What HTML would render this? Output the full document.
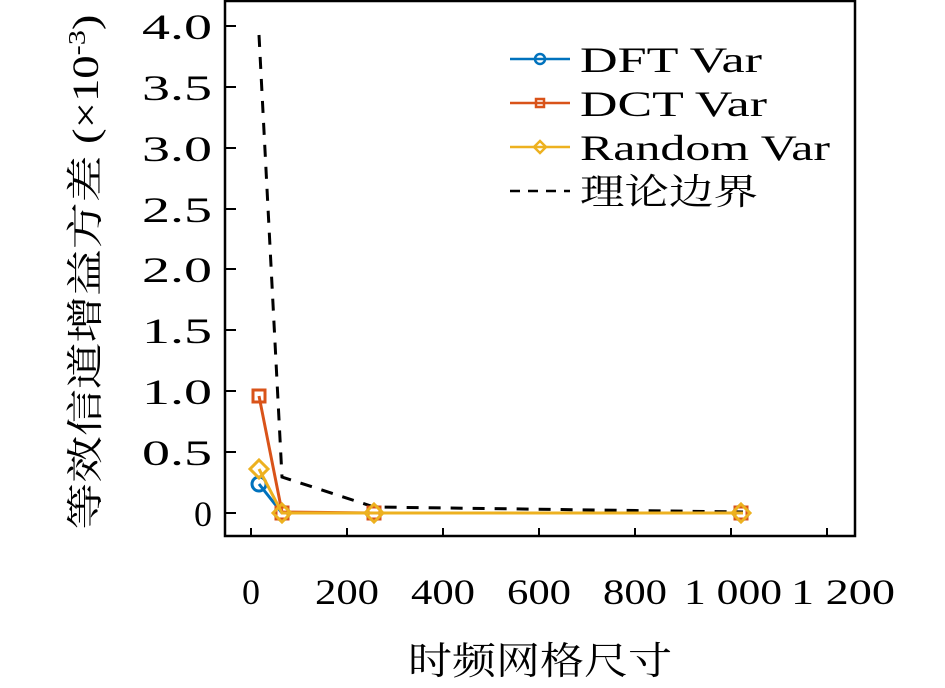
<!DOCTYPE html>
<html><head><meta charset="utf-8"><style>body{margin:0;background:#fff}</style></head><body>
<svg width="945" height="683" xmlns="http://www.w3.org/2000/svg" style="font-family:'Liberation Serif','Noto Serif CJK SC',serif">
<rect width="945" height="683" fill="#fff"/>
<g stroke="#000" stroke-width="2.5" fill="none">
<rect x="225" y="1" width="630" height="535"/>
</g>
<g stroke="#000" stroke-width="2">
<line x1="251" y1="536" x2="251" y2="528"/><line x1="347" y1="536" x2="347" y2="528"/><line x1="443" y1="536" x2="443" y2="528"/><line x1="539" y1="536" x2="539" y2="528"/><line x1="635" y1="536" x2="635" y2="528"/><line x1="731" y1="536" x2="731" y2="528"/><line x1="827" y1="536" x2="827" y2="528"/>
<line x1="225" y1="513" x2="236" y2="513"/><line x1="225" y1="452" x2="236" y2="452"/><line x1="225" y1="391" x2="236" y2="391"/><line x1="225" y1="330" x2="236" y2="330"/><line x1="225" y1="269" x2="236" y2="269"/><line x1="225" y1="209" x2="236" y2="209"/><line x1="225" y1="148" x2="236" y2="148"/><line x1="225" y1="87" x2="236" y2="87"/><line x1="225" y1="26" x2="236" y2="26"/>
</g>
<g font-size="36" text-anchor="end" fill="#000">
<text x="212" y="526">0</text>
<text x="212" y="465" textLength="70" lengthAdjust="spacingAndGlyphs">0.5</text>
<text x="212" y="404" textLength="70" lengthAdjust="spacingAndGlyphs">1.0</text>
<text x="212" y="343" textLength="70" lengthAdjust="spacingAndGlyphs">1.5</text>
<text x="212" y="282" textLength="70" lengthAdjust="spacingAndGlyphs">2.0</text>
<text x="212" y="222" textLength="70" lengthAdjust="spacingAndGlyphs">2.5</text>
<text x="212" y="161" textLength="70" lengthAdjust="spacingAndGlyphs">3.0</text>
<text x="212" y="100" textLength="70" lengthAdjust="spacingAndGlyphs">3.5</text>
<text x="212" y="39" textLength="70" lengthAdjust="spacingAndGlyphs">4.0</text>
</g>
<g font-size="36" text-anchor="middle" fill="#000">
<text x="251" y="604">0</text>
<text x="347" y="604" textLength="64" lengthAdjust="spacingAndGlyphs">200</text>
<text x="443" y="604" textLength="64" lengthAdjust="spacingAndGlyphs">400</text>
<text x="539" y="604" textLength="64" lengthAdjust="spacingAndGlyphs">600</text>
<text x="635" y="604" textLength="64" lengthAdjust="spacingAndGlyphs">800</text>
<text x="733" y="604" textLength="98" lengthAdjust="spacingAndGlyphs">1 000</text>
<text x="843" y="604" textLength="104" lengthAdjust="spacingAndGlyphs">1 200</text>
<text x="540" y="674" textLength="264" lengthAdjust="spacingAndGlyphs" font-size="38">时频网格尺寸</text>
</g>
<text transform="translate(98,272) rotate(-90)" font-size="37" text-anchor="middle" textLength="515" lengthAdjust="spacingAndGlyphs">等效信道增益方差 (×10<tspan dy="-13" font-size="24">-3</tspan><tspan dy="13">)</tspan></text>
<polyline points="259,35 282,477 374,507 743,512" fill="none" stroke="#000" stroke-width="3" stroke-dasharray="12,10"/>
<g fill="none" stroke-width="3">
<polyline points="259,484 282,513 374,513 743,513" stroke="#0072BD"/>
<circle cx="259" cy="484" r="7" stroke="#0072BD"/><circle cx="282" cy="513" r="7" stroke="#0072BD"/><circle cx="374" cy="513" r="7" stroke="#0072BD"/><circle cx="741" cy="513" r="7" stroke="#0072BD"/>
<polyline points="259,396 282,512 374,513 743,513" stroke="#D95319"/>
<rect x="253" y="390" width="12" height="12" stroke="#D95319"/><rect x="276" y="507" width="12" height="12" stroke="#D95319"/><rect x="368" y="507" width="12" height="12" stroke="#D95319"/><rect x="735" y="507" width="12" height="12" stroke="#D95319"/>
<polyline points="259,469 282,513 374,513 743,513" stroke="#EDB120"/>
<path d="M259 460l9 9-9 9-9-9z M282 504l9 9-9 9-9-9z M374 504l9 9-9 9-9-9z M741 504l9 9-9 9-9-9z" stroke="#EDB120"/>
<line x1="510" y1="59" x2="570" y2="59" stroke="#0072BD" stroke-width="2.5"/><circle cx="540" cy="59" r="5" stroke="#0072BD" stroke-width="2.5"/>
<line x1="510" y1="103" x2="570" y2="103" stroke="#D95319" stroke-width="2.5"/><rect x="536" y="99" width="8" height="8" stroke="#D95319" stroke-width="2.5"/>
<line x1="510" y1="147" x2="570" y2="147" stroke="#EDB120" stroke-width="2.5"/><path d="M540 141l6 6-6 6-6-6z" stroke="#EDB120" stroke-width="2.5"/>
<line x1="510" y1="191" x2="570" y2="191" stroke="#000" stroke-dasharray="10,8" stroke-width="2.5"/>
</g>
<g font-size="36" fill="#000">
<text x="580" y="72" textLength="182" lengthAdjust="spacingAndGlyphs">DFT Var</text>
<text x="580" y="116" textLength="187" lengthAdjust="spacingAndGlyphs">DCT Var</text>
<text x="580" y="160" textLength="250" lengthAdjust="spacingAndGlyphs">Random Var</text>
<text x="580" y="204" textLength="178" lengthAdjust="spacingAndGlyphs">理论边界</text>
</g>
</svg>
</body></html>
